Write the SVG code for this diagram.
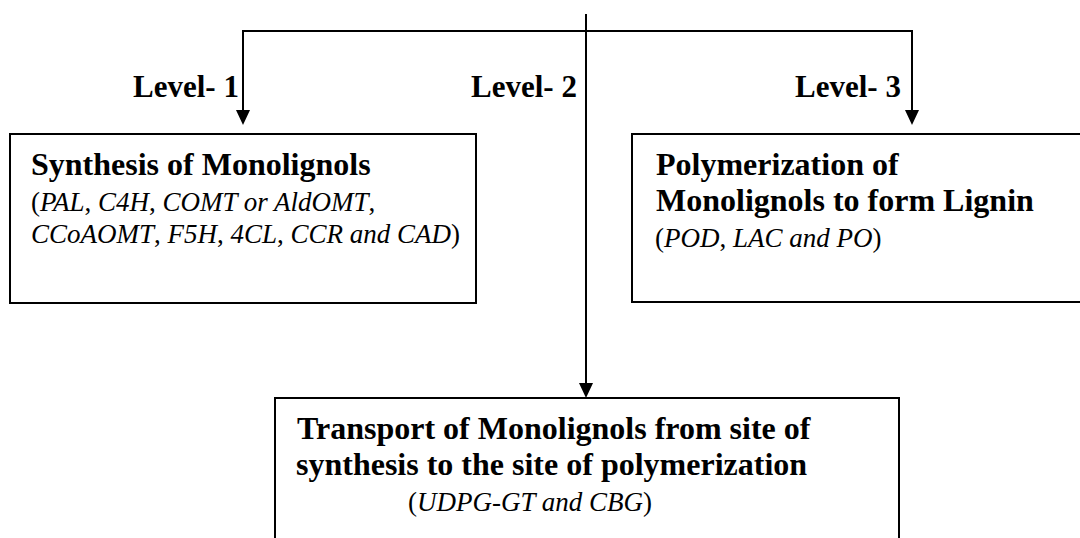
<svg xmlns="http://www.w3.org/2000/svg" width="1080" height="538" viewBox="0 0 1080 538">
<style>
.box{fill:#fff;stroke:#000;stroke-width:2}
.conn{stroke:#000;stroke-width:2;fill:none}
.head{fill:#000}
.lvl{font-family:"Liberation Serif",serif;font-weight:bold;font-size:31px;fill:#000}
.b{font-family:"Liberation Serif",serif;font-weight:bold;font-size:32px;fill:#000}
.i{font-family:"Liberation Serif",serif;font-size:27px;fill:#000}
.it{font-style:italic}
</style>
<rect width="1080" height="538" fill="#fff"/>
<g id="connectors">
<line class="conn" x1="586" y1="14" x2="586" y2="384"/>
<polygon class="head" points="579,383 593,383 586,398"/>
<polyline class="conn" points="243,110 243,31 912,31 912,110"/>
<polygon class="head" points="236,110 250,110 243,125"/>
<polygon class="head" points="905,110 919,110 912,125"/>
<text class="lvl" x="133" y="97">Level- 1</text>
<text class="lvl" x="471" y="97">Level- 2</text>
<text class="lvl" x="795" y="97">Level- 3</text>
</g>
<g id="node-synthesis">
<rect class="box" x="10" y="134" width="466" height="169"/>
<text class="b" x="31" y="175">Synthesis of Monolignols</text>
<text class="i" x="31" y="211">(<tspan class="it">PAL</tspan>, <tspan class="it">C4H</tspan>, <tspan class="it">COMT or AldOMT</tspan>,</text>
<text class="i" x="31" y="243"><tspan class="it">CCoAOMT</tspan>, <tspan class="it">F5H</tspan>, <tspan class="it">4CL</tspan>, <tspan class="it">CCR and CAD</tspan>)</text>
</g>
<g id="node-polymerization">
<rect class="box" x="632" y="134" width="460" height="168"/>
<text class="b" x="656" y="175">Polymerization of</text>
<text class="b" x="656" y="211">Monolignols to form Lignin</text>
<text class="i" x="655" y="247">(<tspan class="it">POD</tspan>, <tspan class="it">LAC and PO</tspan>)</text>
</g>
<g id="node-transport">
<rect class="box" x="275" y="398" width="624" height="160"/>
<text class="b" x="297" y="439">Transport of Monolignols from site of</text>
<text class="b" x="296" y="475">synthesis to the site of polymerization</text>
<text class="i" x="408" y="511">(<tspan class="it">UDPG-GT and CBG</tspan>)</text>
</g>
</svg>
